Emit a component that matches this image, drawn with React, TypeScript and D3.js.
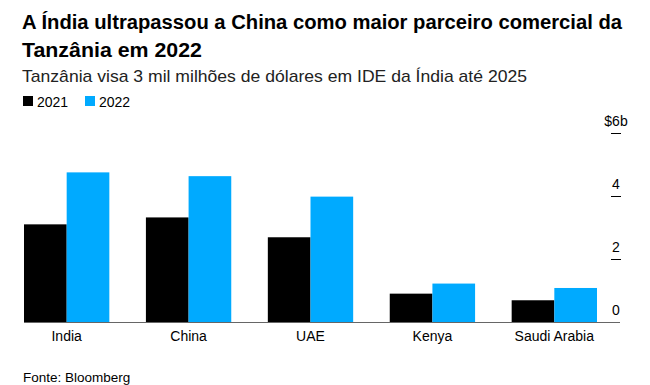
import React from "react";
import * as d3 from "d3";

const categories = ["India", "China", "UAE", "Kenya", "Saudi Arabia"];
const values2021 = [3.1, 3.32, 2.69, 0.9, 0.69];
const values2022 = [4.75, 4.63, 3.98, 1.22, 1.08];
const seriesNames = ["2021", "2022"];
const yTicks = [0, 2, 4, 6];

const colors = ["#000000", "#00aaff"];

const App: React.FC = () => {
  const width = 650;
  const height = 385;

  // scales
  const x0 = d3.scaleBand<string>().domain(categories).range([24, 597]).paddingInner(0.3).paddingOuter(0);
  const x1 = d3.scaleBand<string>().domain(seriesNames).range([0, x0.bandwidth()]);
  const y = d3.scaleLinear().domain([0, 6]).range([322, 133]);

  const series = [values2021, values2022];

  return (
    <svg width={width} height={height} style={{ position: "absolute", left: 0, top: 0 }} fontFamily="'Liberation Sans', Arial, sans-serif">
      <rect width={width} height={height} fill="#fff" />
      {/* titles */}
      <text x={22} y={29} fontSize={20} fontWeight="bold" fill="#000" textLength={600} lengthAdjust="spacingAndGlyphs">
        A Índia ultrapassou a China como maior parceiro comercial da
      </text>
      <text x={22} y={57} fontSize={20} fontWeight="bold" fill="#000" textLength={180} lengthAdjust="spacingAndGlyphs">
        Tanzânia em 2022
      </text>
      <text x={22} y={82} fontSize={17} fill="#222" textLength={505} lengthAdjust="spacingAndGlyphs">
        Tanzânia visa 3 mil milhões de dólares em IDE da Índia até 2025
      </text>

      {/* legend */}
      {seriesNames.map((s, i) => (
        <g key={s} transform={`translate(${23 + i * 62},0)`}>
          <rect x={0} y={96} width={10} height={10} fill={colors[i]} />
          <text x={14} y={107} fontSize={14} fill="#000">{s}</text>
        </g>
      ))}

      {/* bars */}
      {categories.map((c, ci) => (
        <g key={c} transform={`translate(${x0(c)},0)`}>
          {seriesNames.map((s, si) => (
            <rect
              key={s}
              x={x1(s)}
              y={y(series[si][ci])}
              width={x1.bandwidth()}
              height={y(0) - y(series[si][ci])}
              fill={colors[si]}
            />
          ))}
          <text x={x0.bandwidth() / 2} y={341} fontSize={14} textAnchor="middle" fill="#000">{c}</text>
        </g>
      ))}

      {/* baseline */}
      <line x1={24} x2={620} y1={y(0) + 0.5} y2={y(0) + 0.5} stroke="#666" strokeWidth={1} />

      {/* y axis on right */}
      {yTicks.map((t) => (
        <g key={t}>
          {t !== 0 && <line x1={611} x2={621} y1={y(t) + 0.5} y2={y(t) + 0.5} stroke="#000" strokeWidth={1} />}
          <text x={616} y={y(t) - 7} fontSize={14} textAnchor="middle" fill="#000">
            {t === 6 ? "$6b" : t}
          </text>
        </g>
      ))}

      {/* source */}
      <text x={23} y={382} fontSize={13.5} fill="#000">Fonte: Bloomberg</text>
    </svg>
  );
};

export default App;
